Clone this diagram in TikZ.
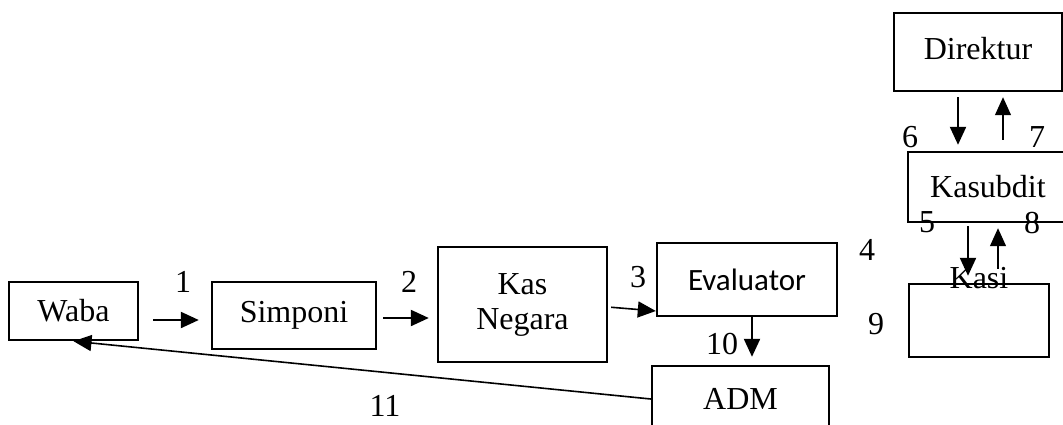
\documentclass[tikz,border=0pt]{standalone}
\usepackage{fontspec}
\setmainfont{Liberation Serif}
\newfontfamily\calibri{Carlito}
\usetikzlibrary{arrows.meta}
\tikzset{box/.style={draw, line width=2.4pt, inner sep=0, font=\fontsize{32}{35}\selectfont}}
\tikzset{arr/.style={-{Triangle[length=18pt,width=16pt]}, line width=2.2pt}}
\tikzset{thinarr/.style={-{Triangle[length=18pt,width=16pt]}, line width=1.2pt}}
\tikzset{num/.style={inner sep=0, font=\fontsize{32}{35}\selectfont}}

\begin{document}
\begin{tikzpicture}[x=1pt,y=-1pt]
\clip (0,0) rectangle (1063,424);

\node[box, minimum width=129pt, minimum height=58pt] (waba) at (73.5,311) {Waba};
\node[box, minimum width=164pt, minimum height=67pt] (simponi) at (294,315.5) {Simponi};
\node[box, minimum width=169pt, minimum height=115pt, align=center] (kas) at (522.5,304.5) {Kas\\Negara};
\node[box, minimum width=180pt, minimum height=73pt, font=\calibri\fontsize{31}{35}\selectfont] (eval) at (747,279.5) {Evaluator};
\node[box, minimum width=177pt, minimum height=66pt] (adm) at (740.5,399) {ADM};
\node[box, minimum width=168pt, minimum height=78pt, text depth=8pt] (direktur) at (978,52) {Direktur};
\node[box, minimum width=160pt, minimum height=70pt] (kasubdit) at (988,187) {Kasubdit};
\node[box, minimum width=140pt, minimum height=73pt,
  label={[num, anchor=base, label distance=-6pt]above:Kasi}] (kasi) at (979,320.5) {};

% nomor alur
\node[num] (l1) at (183,282) {1};
\node[num] (l2) at (409,282) {2};
\node[num] (l3) at (638,277) {3};
\node[num] (l4) at (867,250) {4};
\node[num] (l5) at (927,222) {5};
\node[num] (l6) at (910,137) {6};
\node[num] (l7) at (1037,137) {7};
\node[num] (l8) at (1032,223) {8};
\node[num] (l9) at (876,324) {9};
\node[num] (l10) at (722,344) {10};
\node[num] (l11) at (385,406) {11};

\draw[arr, shorten <=14pt, shorten >=12pt] ([yshift=-9pt]waba.east) -- ([yshift=-4.5pt]simponi.west);
\draw[arr, shorten <=6pt, shorten >=8pt] ([yshift=-2.5pt]simponi.east) -- ([yshift=-13.5pt]kas.west);
\draw[arr, line width=1.6pt, shorten <=3pt] ([yshift=-2.5pt]kas.east) -- ([yshift=-31.5pt]eval.west);
\draw[arr, shorten >=8pt] ([xshift=5pt]eval.south) -- ([xshift=5pt]eval.south |- adm.north);
\draw[arr, line width=1.6pt] (adm.west) -- (waba.south);

\draw[arr, shorten <=5pt, shorten >=6pt] ([xshift=-20pt]direktur.south) -- ([xshift=-20pt]direktur.south |- kasubdit.north);
\draw[thinarr, shorten <=11pt, shorten >=5pt] ([xshift=25pt]direktur.south |- kasubdit.north) -- ([xshift=25pt]direktur.south);
\draw[arr, shorten <=3pt, shorten >=7pt] ([xshift=-11pt]kasi.north |- kasubdit.south) -- ([xshift=-11pt]kasi.north);
\draw[thinarr, shorten <=14pt, shorten >=5pt] ([xshift=19pt]kasi.north) -- ([xshift=19pt]kasi.north |- kasubdit.south);

\end{tikzpicture}
\end{document}
